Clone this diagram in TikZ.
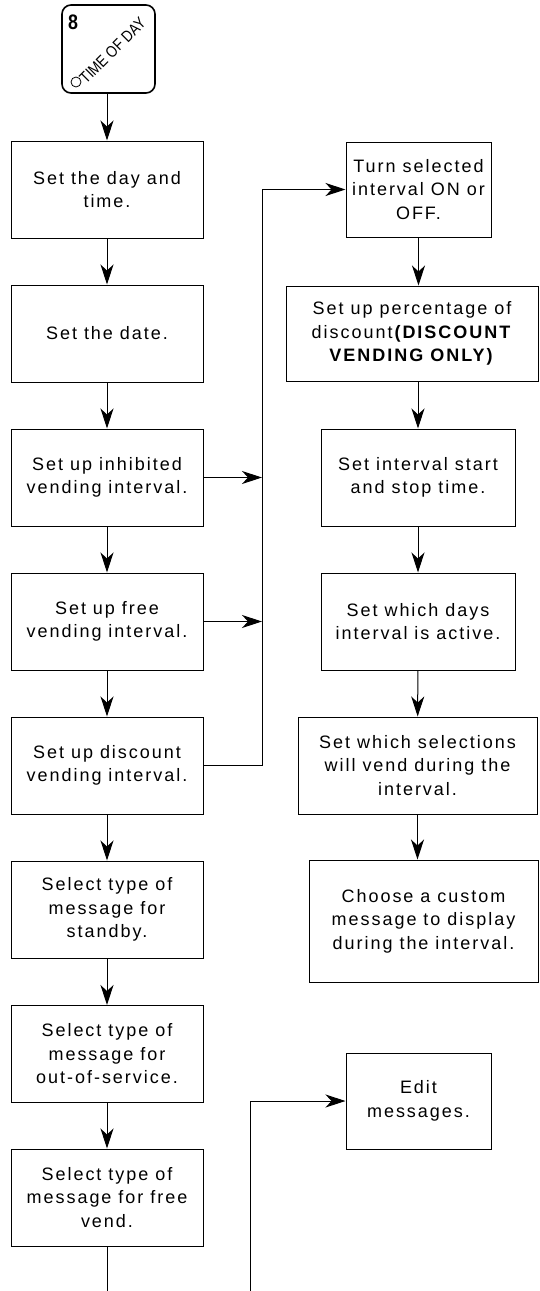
\documentclass[tikz,border=0pt]{standalone}
\usepackage{fontspec}
\setmainfont{Liberation Sans}[LetterSpace=11]
\newfontfamily\keyfont{Liberation Sans}[FakeStretch=0.85]
\usetikzlibrary{arrows.meta,calc}
\tikzset{
  blk/.style={draw, line width=1pt, align=center, inner sep=0pt,
              minimum width=192pt, minimum height=97pt,
              font=\fontsize{18}{23.5}\selectfont},
  key/.style={draw, line width=1.6pt, rounded corners=9pt,
              minimum width=93pt, minimum height=88pt, inner sep=0pt},
  flow/.style={-{Stealth[length=20pt,width=13pt,inset=6pt]}, line width=1pt},
  wire/.style={line width=1pt},
}

\begin{document}
\begin{tikzpicture}[x=1pt,y=-1pt]
\useasboundingbox (0,0) rectangle (539,1291);

%% -- the key on top ---------------------------------------------------------
\node[key] (key) at (108.5,49) {};
\node[anchor=north west, inner sep=0pt,
      font=\keyfont\bfseries\fontsize{21}{21}\selectfont] (keynum) at (68,15) {8};
\node[draw, circle, line width=0.8pt, minimum size=10pt, inner sep=0pt]
  (keydot) at (76,82) {};
\node[rotate=45, anchor=base west, inner sep=0pt,
      font=\keyfont\fontsize{16}{16}\selectfont] (keytxt) at (86,85) {TIME OF DAY};

%% -- main column -------------------------------------------------------------
\node[blk] (day)     at (107,189.5)  {Set the day and\\time.};
\node[blk] (date)    at (107,333.5)  {Set the date.};
\node[blk] (inhib)   at (107,477.5)  {Set up inhibited\\vending interval.};
\node[blk] (free)    at (107,621.5)  {Set up free\\vending interval.};
\node[blk] (disc)    at (107,765.5)  {Set up discount\\vending interval.};
\node[blk] (standby) at (107,909.5)  {Select type of\\message for\\standby.};
\node[blk] (oos)     at (107,1054)   {Select type of\\message for\\out-of-service.};
\node[blk] (freemsg) at (107,1197.5) {Select type of\\message for free\\vend.};

%% -- interval column ---------------------------------------------------------
\node[blk, minimum width=145pt, minimum height=95pt] (onoff) at (418.5,189.5)
  {Turn selected\\interval ON or\\OFF.};
\node[blk, minimum width=252pt, minimum height=95pt] (pct) at (412,333.5)
  {Set up percentage of\\discount\textbf{(DISCOUNT}\\\textbf{VENDING ONLY)}};
\node[blk, minimum width=194pt] (startstop) at (418,477.5)
  {Set interval start\\and stop time.};
\node[blk, minimum width=194pt] (days) at (418,621.5)
  {Set which days\\interval is active.};
\node[blk, minimum width=239pt] (sel) at (417.5,765.5)
  {Set which selections\\will vend during the\\interval.};
\node[blk, minimum width=229pt, minimum height=122pt] (custom) at (423.5,921)
  {Choose a custom\\message to display\\during the interval.};
\node[blk, minimum width=145pt, minimum height=96pt] (edit) at (418.5,1101)
  {Edit\\messages.};

%% -- arrows down the columns -------------------------------------------------
\draw[flow] (day.north |- key.south) -- (day.north);
\draw[flow] (day) -- (date);
\draw[flow] (date) -- (inhib);
\draw[flow] (inhib) -- (free);
\draw[flow] (free) -- (disc);
\draw[flow] (disc) -- (standby);
\draw[flow] (standby) -- (oos);
\draw[flow] (oos) -- (freemsg);

\draw[flow] (onoff.south) -- (onoff.south |- pct.north);
\draw[flow] (startstop.north |- pct.south) -- (startstop.north);
\draw[flow] (startstop) -- (days);
\draw[flow] (days) -- (sel);
\draw[flow] (sel.south) -- (sel.south |- custom.north);

%% -- the bus into the interval column ----------------------------------------
\coordinate (bus) at (262,0);
\draw[flow] (inhib.east) -- (inhib.east -| bus);
\draw[flow] (free.east) -- (free.east -| bus);
\draw[flow] (disc.east) -- (disc.east -| bus) -- (onoff.west -| bus) -- (onoff.west);

%% -- runs off the page -------------------------------------------------------
\coordinate (outL) at (107,1291);
\coordinate (outR) at (250,1291);
\draw[wire] (freemsg.south) -- (outL);
\draw[flow] (outR) |- (edit.west);

\end{tikzpicture}
\end{document}
